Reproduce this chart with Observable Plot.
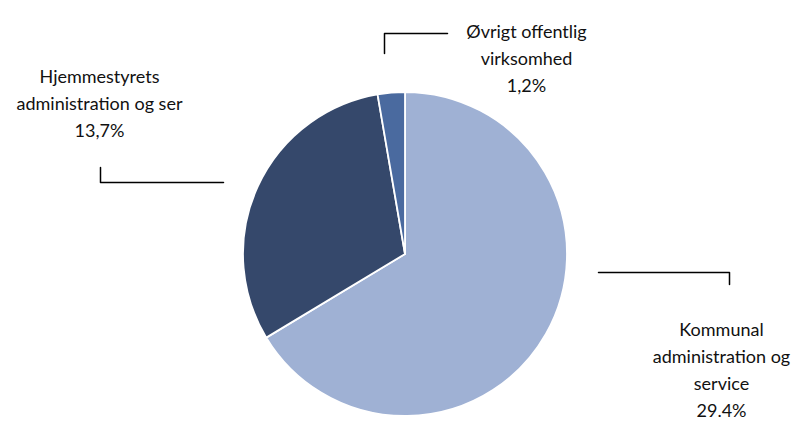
<!DOCTYPE html>
<html><head><meta charset="utf-8">
<script src="https://cdn.jsdelivr.net/npm/d3@7"></script>
<script src="https://cdn.jsdelivr.net/npm/@observablehq/plot@0.6"></script>
<style>body{margin:0;background:#fff;} #chart svg{display:block;}</style>
</head><body><div id="chart"></div>
<script>
// Data
const categories = ["Kommunal administration og service", "Hjemmestyrets administration og ser", "Øvrigt offentlig virksomhed"];
const values = [29.4, 13.7, 1.2];
const valueLabels = ["29.4%", "13,7%", "1,2%"];
const labelText = [
  "Kommunal\nadministration og\nservice",
  "Hjemmestyrets\nadministration og ser",
  "Øvrigt offentlig\nvirksomhed"
];
const colors = ["#9fb1d4", "#35486b", "#4a6a9f"];

// Layout (pixel space of the plot)
const W = 795, H = 421;
const center = {x: 405, y: 254};
const R = 162;
const labelPos = [{x: 721, y: 316}, {x: 99, y: 63}, {x: 526, y: 18}];
const leaders = [
  [[598, 272], [729, 272], [729, 284]],
  [[100, 167], [100, 182], [223, 182]],
  [[384, 53], [384, 33], [447, 33]]
];

const data = categories.map((c, i) => ({category: c, value: values[i], color: colors[i]}));
const arcs = d3.pie().sort(null).value(d => d.value)(data);

function pieMark(index, scales) {
  const cx = scales.x(center.x), cy = scales.y(center.y);
  const r = scales.x(center.x + R) - cx;
  const g = d3.create("svg:g").attr("transform", `translate(${cx},${cy})`);
  g.selectAll("path").data(arcs).join("path")
    .attr("d", d3.arc().innerRadius(0).outerRadius(r))
    .attr("fill", d => d.data.color)
    .attr("stroke", "#fff")
    .attr("stroke-width", 1.8)
    .attr("stroke-linejoin", "round");
  return g.node();
}

const labels = categories.map((c, i) => ({text: labelText[i] + "\n" + valueLabels[i], x: labelPos[i].x, y: labelPos[i].y}));
const leaderPts = leaders.flatMap((pts, i) => pts.map(([x, y]) => ({x, y, k: i})));

const chart = Plot.plot({
  width: W, height: H,
  margin: 0,
  style: {fontFamily: "Lato, sans-serif", background: "#fff"},
  x: {domain: [0, W], range: [0, W], axis: null},
  y: {domain: [0, H], range: [0, H], axis: null},
  marks: [
    pieMark,
    Plot.line(leaderPts, {x: "x", y: "y", z: "k", stroke: "#000", strokeWidth: 1.5, curve: "linear"}),
    Plot.text(labels, {x: "x", y: "y", text: "text", lineAnchor: "top", lineHeight: 1.5, fontSize: 18, fill: "#111", textAnchor: "middle"})
  ]
});
document.getElementById("chart").append(chart);
</script>
</body></html>
